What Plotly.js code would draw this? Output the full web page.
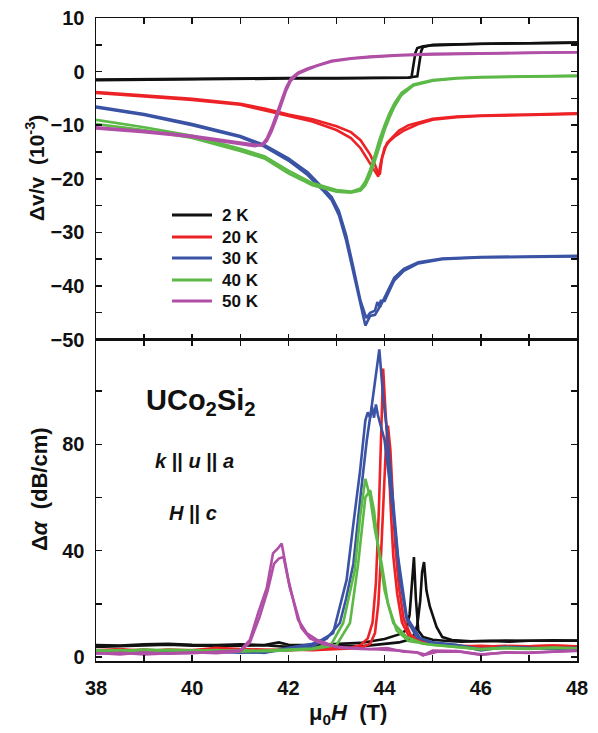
<!DOCTYPE html>
<html>
<head>
<meta charset="utf-8">
<script src="https://cdn.plot.ly/plotly-3.0.1.min.js"></script>
<style>html,body{margin:0;padding:0;background:#fff;}#chart{width:598px;height:733px;}</style>
</head>
<body>
<div id="chart"></div>
<script>
// ---------- Data: top panel, sound velocity dv/v (1e-3) ----------
var temps = ["2 K", "20 K", "30 K", "40 K", "50 K"];
var colors = ["#111111", "#ec2227", "#3a53a4", "#5cb947", "#b04fa6"];

var H_v2K_a = [38,39,40,41,42,43,44,44.5,44.56,44.6,44.64,44.68,44.8,45,45.5,46,47,48];
var v_2K_a  = [-1.6,-1.5,-1.4,-1.4,-1.3,-1.3,-1.2,-1.15,-1.0,1.0,3.5,4.4,4.7,4.9,5.1,5.2,5.3,5.4];
var H_v2K_b = [38,39,40,41,42,43,44,44.5,44.68,44.72,44.76,44.8,44.9,45,45.5,46,47,48];
var v_2K_b  = [-1.5,-1.4,-1.3,-1.3,-1.2,-1.2,-1.1,-1.1,-0.9,1.5,3.8,4.6,4.8,5.0,5.1,5.2,5.3,5.4];

var H_v20K_a = [38,39,40,41,41.5,42,42.5,43,43.3,43.5,43.7,43.8,43.87,43.92,44.0,44.1,44.2,44.4,44.7,45,45.5,46,47,48];
var v_20K_a  = [-4.0,-4.6,-5.3,-6.2,-7.2,-8.3,-9.3,-10.9,-12.4,-14.3,-17.2,-18.8,-19.6,-17.0,-14.2,-13.0,-12.2,-11.0,-9.8,-9.0,-8.5,-8.3,-8.1,-7.9];
var H_v20K_b = [38,39,40,41,41.5,42,42.5,43,43.3,43.5,43.7,43.8,43.85,43.9,43.95,44.05,44.15,44.3,44.5,44.8,45,45.5,46,47,48];
var v_20K_b  = [-3.8,-4.4,-5.1,-6.0,-6.9,-8.0,-8.9,-10.2,-11.3,-12.8,-15.5,-17.4,-18.6,-19.2,-16.0,-13.3,-12.3,-11.0,-10.0,-9.2,-8.8,-8.4,-8.2,-8.0,-7.8];

var H_v30K_a = [38,39,40,41,41.5,42,42.4,42.7,42.9,43.05,43.2,43.35,43.5,43.6,43.7,43.8,43.88,43.92,44.0,44.1,44.2,44.4,44.7,45.2,46,47,48];
var v_30K_a  = [-6.7,-8.1,-10.0,-12.2,-14.0,-16.6,-19.3,-22.0,-24.0,-26.8,-31.5,-37.5,-44.0,-47.4,-45.6,-45.4,-44.2,-42.8,-42.8,-41.0,-39.0,-37.2,-35.8,-35.0,-34.7,-34.6,-34.5];
var H_v30K_b = [38,39,40,41,41.5,42,42.4,42.7,42.9,43.05,43.2,43.35,43.5,43.62,43.7,43.8,43.85,43.9,44.0,44.1,44.2,44.4,44.7,45.2,46,47,48];
var v_30K_b  = [-6.5,-7.9,-9.8,-12.0,-13.7,-16.2,-18.8,-21.5,-23.4,-26.0,-30.5,-36.5,-42.8,-46.0,-45.0,-44.6,-43.0,-44.0,-42.0,-40.3,-38.5,-36.8,-35.6,-34.9,-34.6,-34.5,-34.4];

var H_v40K_a = [38,39,40,41,41.5,42,42.5,43,43.3,43.5,43.6,43.7,43.8,43.9,44.0,44.1,44.2,44.35,44.6,45,45.5,46,47,48];
var v_40K_a  = [-9.0,-10.4,-12.0,-14.4,-15.8,-18.5,-20.8,-22.1,-22.4,-21.8,-20.5,-18.3,-15.5,-12.5,-10.0,-7.8,-6.0,-4.0,-2.4,-1.6,-1.2,-1.0,-0.9,-0.8];
var H_v40K_b = [38,39,40,41,41.5,42,42.5,43,43.3,43.5,43.6,43.7,43.8,43.9,44.0,44.1,44.2,44.35,44.6,45,45.5,46,47,48];
var v_40K_b  = [-9.8,-10.9,-12.4,-14.8,-16.2,-19.0,-21.2,-22.4,-22.6,-22.2,-21.2,-19.3,-16.6,-13.6,-10.9,-8.6,-6.6,-4.4,-2.6,-1.7,-1.3,-1.1,-0.9,-0.8];

var H_v50K_a = [38,39,40,40.5,41,41.3,41.45,41.55,41.65,41.75,41.85,41.95,42.05,42.2,42.4,42.6,42.9,43.3,43.7,44.3,45,46,47,48];
var v_50K_a  = [-10.6,-11.3,-12.2,-12.8,-13.4,-13.9,-13.6,-12.5,-10.5,-8.0,-5.5,-3.0,-1.3,-0.2,0.6,1.2,2.0,2.5,2.8,3.1,3.3,3.4,3.5,3.6];
var H_v50K_b = [38,39,40,40.5,41,41.3,41.45,41.55,41.65,41.75,41.85,41.95,42.05,42.2,42.4,42.6,42.9,43.3,43.7,44.3,45,46,47,48];
var v_50K_b  = [-10.4,-11.1,-12.0,-12.6,-13.2,-13.7,-13.8,-13.0,-11.2,-8.8,-6.2,-3.6,-1.7,-0.4,0.4,1.1,1.9,2.4,2.7,3.0,3.2,3.4,3.5,3.6];

// ---------- Data: bottom panel, attenuation (dB/cm) ----------
var H_a2K_a = [38,38.5,39,39.5,40,40.5,41,41.5,41.8,42,42.5,43,43.5,44,44.3,44.45,44.52,44.57,44.61,44.65,44.7,44.8,45,45.3,45.6,46,46.5,47,47.5,48];
var a_2K_a  = [4.5,4.3,4.8,5.0,4.6,4.5,4.8,4.5,5.5,4.6,4.5,4.8,5.3,6.8,8.5,10,16,28,37.6,22,10,7.5,6.5,6.0,5.8,6.0,6.2,6.1,6.3,6.2];
var H_a2K_b = [38,38.5,39,39.5,40,40.5,41,41.5,42,42.5,43,43.5,44,44.3,44.5,44.6,44.68,44.74,44.78,44.82,44.87,44.94,45.08,45.2,45.4,45.8,46.2,46.6,47,47.5,48];
var a_2K_b  = [3.8,4.0,4.2,4.6,4.3,4.2,4.3,4.4,3.8,4.0,4.2,4.0,4.8,5.5,6.5,8,12,21,32,35.7,25,19,11.3,7.5,6.4,5.9,6.0,5.8,6.1,6.0,6.1];

var H_a20K_a = [38,38.5,39,39.5,40,40.5,41,41.5,42,42.5,43,43.3,43.5,43.65,43.75,43.82,43.88,43.93,43.97,44.02,44.08,44.13,44.18,44.26,44.36,44.5,44.8,45.2,45.6,46,46.5,47,47.5,48];
var a_20K_a  = [2.5,3.0,2.2,2.8,2.5,3.5,3.0,2.8,2.5,3.0,3.2,3.5,4.5,7,13,28,55,85,108.5,92,75,55,38,24,13,8,5.5,4.5,4.0,4.2,3.8,4.0,4.3,4.0];
var H_a20K_b = [38,38.5,39,39.5,40,40.5,41,41.5,42,42.5,43,43.3,43.5,43.7,43.8,43.87,43.93,43.98,44.03,44.07,44.12,44.17,44.22,44.3,44.4,44.55,44.9,45.3,46,46.5,47,47.5,48];
var a_20K_b  = [2.0,2.4,2.8,2.2,2.6,2.4,2.9,2.5,2.8,2.6,2.9,3.2,3.5,5,9,20,40,62,80,87,78,60,42,26,14,8,5.5,4.5,3.8,4.2,4.0,4.3,3.9];

var H_a30K_a = [38,38.5,39,39.5,40,40.5,41,41.5,42,42.5,42.8,43.07,43.2,43.35,43.52,43.63,43.73,43.84,43.89,43.97,44.05,44.15,44.28,44.46,44.74,45.0,45.5,46,46.5,47,47.5,48];
var a_30K_a  = [2.0,2.4,1.8,2.5,2.2,2.0,1.6,1.8,3.0,4.0,7,12.8,22,35,64,81.5,94,108,115.7,97.7,85,64,37.6,15,7,5.5,4.5,2.5,3.8,3.5,3.2,3.5];
var H_a30K_b = [38,38.5,39,39.5,40,40.5,41,41.5,42,42.5,42.7,42.93,43.21,43.35,43.49,43.6,43.65,43.7,43.74,43.78,43.82,43.86,44.0,44.1,44.22,44.32,44.46,44.67,45.0,45.5,46,46.5,47,47.5,48];
var a_30K_b  = [1.8,2.2,2.6,2.0,2.4,1.8,2.2,1.5,3.5,5.0,6.5,9,29,50,70,89,92,90,94,90,95,91,81.5,66.5,47.7,29,14,7.5,5.3,4.5,3.0,3.6,3.3,3.0,2.8];

var H_a40K_a = [38,38.5,39,39.5,40,40.5,41,41.5,42,42.5,42.9,43.14,43.38,43.49,43.6,43.7,43.8,43.94,44.07,44.25,44.5,45,45.5,46,46.5,47,47.5,48];
var a_40K_a  = [2.5,2.2,2.8,2.4,2.2,2.6,2.0,2.4,2.8,3.2,5,12.8,32.7,52.6,67,60,47.7,35,20,10,6,4.5,3.8,3.0,3.5,3.2,3.6,3.3];
var H_a40K_b = [38,38.5,39,39.5,40,40.5,41,41.5,42,42.5,43,43.28,43.45,43.6,43.7,43.78,43.87,44.0,44.18,44.46,44.8,45.3,46,46.5,47,47.5,48];
var a_40K_b  = [2.2,2.6,2.0,2.7,2.5,2.3,2.6,2.2,2.5,2.9,4.5,12.8,35,60,62.7,55,41,25,12.8,7.5,5,4.0,2.8,3.3,3.0,3.4,3.1];

var H_a50K_a = [38,38.5,39,39.5,40,40.5,41,41.2,41.37,41.55,41.68,41.79,41.86,42.0,42.1,42.2,42.38,42.6,43,43.35,43.7,44.05,44.4,44.67,44.8,45.0,45.5,46,46.5,47,47.5,48];
var a_50K_a  = [1.5,1.0,1.8,1.2,1.4,2.0,2.5,6.4,16.5,26,39,41,42.7,29,21.4,14,9,6.4,3.8,3.4,3.0,3.4,2.0,1.8,0.6,2.4,2.2,0.8,1.8,1.5,2.0,2.5];
var H_a50K_b = [38,38.5,39,39.5,40,40.5,41,41.2,41.4,41.57,41.7,41.8,41.9,42.03,42.15,42.27,42.45,42.7,43.1,43.5,43.9,44.3,44.7,44.85,45.1,45.6,46,46.5,47,47.5,48];
var a_50K_b  = [1.2,1.6,1.0,1.5,1.8,1.4,2.2,5.5,15,25,35,37,37.6,26,18,11,7,5,3.5,3.0,2.8,2.4,1.6,0.9,2.0,2.0,1.0,1.6,1.7,2.1,2.3];

// ---------- Build traces ----------
var velSets = [
  [[H_v2K_a, v_2K_a], [H_v2K_b, v_2K_b]],
  [[H_v20K_a, v_20K_a], [H_v20K_b, v_20K_b]],
  [[H_v30K_a, v_30K_a], [H_v30K_b, v_30K_b]],
  [[H_v40K_a, v_40K_a], [H_v40K_b, v_40K_b]],
  [[H_v50K_a, v_50K_a], [H_v50K_b, v_50K_b]]
];
var attSets = [
  [[H_a2K_a, a_2K_a], [H_a2K_b, a_2K_b]],
  [[H_a20K_a, a_20K_a], [H_a20K_b, a_20K_b]],
  [[H_a30K_a, a_30K_a], [H_a30K_b, a_30K_b]],
  [[H_a40K_a, a_40K_a], [H_a40K_b, a_40K_b]],
  [[H_a50K_a, a_50K_a], [H_a50K_b, a_50K_b]]
];

var LW = 2.6;
var traces = [];
for (var i = 0; i < temps.length; i++) {
  for (var j = 0; j < 2; j++) {
    traces.push({
      x: velSets[i][j][0], y: velSets[i][j][1], xaxis: 'x2', yaxis: 'y2',
      type: 'scatter', mode: 'lines', name: temps[i], showlegend: false,
      line: {color: colors[i], width: LW}
    });
  }
}
for (var i = 0; i < temps.length; i++) {
  for (var j = 0; j < 2; j++) {
    traces.push({
      x: attSets[i][j][0], y: attSets[i][j][1], xaxis: 'x', yaxis: 'y',
      type: 'scatter', mode: 'lines', name: temps[i], showlegend: false,
      line: {color: colors[i], width: LW}
    });
  }
}

var FONT = 'Liberation Sans, Arial, Helvetica, sans-serif';
var tickFont = {family: FONT, size: 20, color: '#111', weight: 'bold'};
function axisBase() {
  return {
    showgrid: false, zeroline: false, showline: true, linecolor: '#111', linewidth: 1.5,
    mirror: 'ticks', ticks: 'inside', ticklen: 6, tickwidth: 1.5, tickcolor: '#111',
    tickfont: tickFont
  };
}
var minorX = {dtick: 1, ticks: 'inside', ticklen: 6, tickwidth: 1.5, tickcolor: '#111'};
var xa = axisBase();
Object.assign(xa, {domain: [0, 1], anchor: 'y', range: [38, 48], tick0: 38, dtick: 2,
  minor: minorX, ticklabelstandoff: 8});
var xa2 = axisBase();
Object.assign(xa2, {domain: [0, 1], anchor: 'y2', matches: 'x', range: [38, 48], tick0: 38, dtick: 2,
  showticklabels: false, minor: minorX});
var ya = axisBase();
Object.assign(ya, {domain: [0, 0.5], anchor: 'x', range: [-1.5, 119.4], tick0: 0, dtick: 40,
  minor: {dtick: 20, tick0: 0, ticks: 'inside', ticklen: 6, tickwidth: 1.5, tickcolor: '#111'},
  ticklabelstandoff: 6});
var ya2 = axisBase();
Object.assign(ya2, {domain: [0.5, 1], anchor: 'x2', range: [-50, 10], tick0: 0, dtick: 10,
  minor: {dtick: 5, ticks: 'inside', ticklen: 6, tickwidth: 1.5, tickcolor: '#111'},
  ticklabelstandoff: 6});

// pixel -> paper helpers for text placement
var L = 96, R = 577, T = 18, B = 661;
function px(x) { return (x - L) / (R - L); }
function py(y) { return (B - y) / (B - T); }
var SP = '\u00a0\u00a0';

var textFont = function (s) { return {family: FONT, size: s, color: '#111', weight: 'bold'}; };
var annotations = [
  {text: 'Δv/v' + SP + '(10<sup>-3</sup>)', x: px(35), y: py(168), textangle: -90, font: textFont(21)},
  {text: 'Δ<i>α</i>' + SP + '(dB/cm)', x: px(40), y: py(489), textangle: -90, font: textFont(22)},
  {text: 'μ<sub>0</sub><i>H</i>' + SP + '(T)', x: px(348), y: py(714), font: textFont(22)},
  {text: 'UCo<sub>2</sub>Si<sub>2</sub>', x: px(201), y: py(402), font: textFont(29)},
  {text: '<i>k</i> || <i>u</i> || <i>a</i>', x: px(194), y: py(461), font: textFont(20)},
  {text: '<i>H</i> || <i>c</i>', x: px(193), y: py(513), font: textFont(20)}
].map(function (a) {
  return Object.assign({xref: 'paper', yref: 'paper', showarrow: false, xanchor: 'center', yanchor: 'middle'}, a);
});

// manual legend (top panel)
var legendRows = [215, 237, 258, 280, 301];
var shapes = [];
for (var k = 0; k < temps.length; k++) {
  shapes.push({type: 'line', xref: 'paper', yref: 'paper', x0: px(172), x1: px(212),
    y0: py(legendRows[k]), y1: py(legendRows[k]), line: {color: colors[k], width: 3}});
  annotations.push({text: temps[k], xref: 'paper', yref: 'paper', x: px(220), y: py(legendRows[k]),
    xanchor: 'left', yanchor: 'middle', showarrow: false, font: textFont(17)});
}

var layout = {
  width: 598, height: 733,
  margin: {l: L, r: 598 - R, t: T, b: 733 - B},
  paper_bgcolor: '#fff', plot_bgcolor: '#fff',
  showlegend: false,
  xaxis: xa, xaxis2: xa2, yaxis: ya, yaxis2: ya2,
  annotations: annotations, shapes: shapes
};

Plotly.newPlot('chart', traces, layout, {displayModeBar: false, staticPlot: true});
</script>
</body>
</html>
